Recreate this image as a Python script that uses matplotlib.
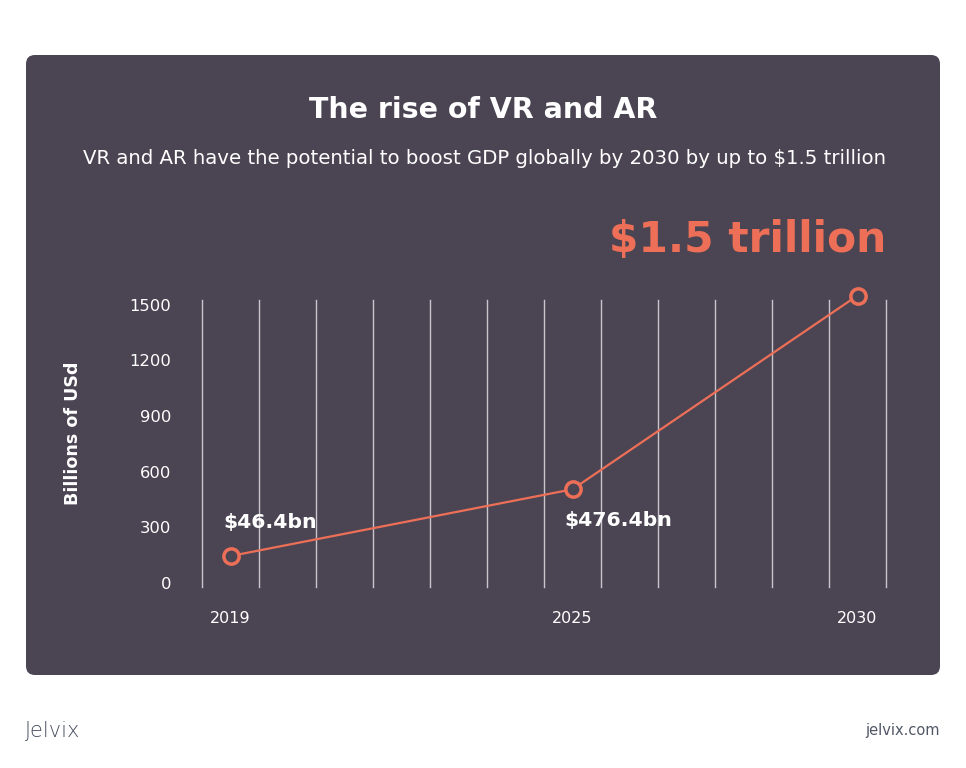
import matplotlib
matplotlib.use("Agg")
import matplotlib.pyplot as plt
from matplotlib.patches import FancyBboxPatch

# ---- data ----
years = [2019, 2025, 2030]
values = [145, 505, 1550]
point_labels = ["$46.4bn", "$476.4bn", None]
yticks = [0, 300, 600, 900, 1200, 1500]
xtick_labels = ["2019", "2025", "2030"]
title = "The rise of VR and AR"
subtitle = "VR and AR have the potential to boost GDP globally by 2030 by up to $1.5 trillion"
highlight = "$1.5 trillion"
ylabel = "Billions of USd"

BG = "#4b4553"
ACC = "#ee6f57"
GRID = "#c9c5cd"
FONT = ["DejaVu Sans"]
W, H = 966, 768

fig = plt.figure(figsize=(W / 100, H / 100), dpi=100)
fig.patch.set_facecolor("white")

bg = fig.add_axes([0, 0, 1, 1])
bg.set_xlim(0, W)
bg.set_ylim(H, 0)
bg.axis("off")
bg.add_patch(FancyBboxPatch((26, 55), 914, 620, boxstyle="round,pad=0,rounding_size=9",
                            facecolor=BG, edgecolor="none"))
bg.text(483.5, 110, title, color="white", fontsize=20.5, fontweight="bold",
        ha="center", va="center", family=FONT)
bg.text(484.5, 158, subtitle, color="white", fontsize=14.2, fontweight="normal",
        ha="center", va="center", family=FONT)
bg.text(886, 240, highlight, color=ACC, fontsize=30.5, fontweight="bold",
        ha="right", va="center", family=FONT)
bg.text(73, 433, ylabel, color="white", fontsize=12.6, fontweight="bold",
        ha="center", va="center", rotation=90, family=FONT)
bg.text(25, 731, "Jelvix", color="#454c5c", fontsize=15, ha="left", va="center",
        family=FONT, fontweight="light")
bg.text(940, 731, "jelvix.com", color="#505766", fontsize=10.5, ha="right", va="center",
        family=FONT)

ax = fig.add_axes([202 / W, 1 - 587 / H, (886 - 202) / W, (587 - 300) / H])
ax.set_facecolor("none")
ax.set_xlim(2018.5, 2030.5)
ax.set_ylim(-22, 1526)
for s in ax.spines.values():
    s.set_visible(False)
for k in range(13):
    ax.axvline(2018.5 + k, color=GRID, lw=1.0, zorder=1, clip_on=False)

ax.plot(years, values, color=ACC, lw=1.6, zorder=3, clip_on=False)
ax.plot(years, values, linestyle="none", marker="o", markersize=11, clip_on=False,
        markerfacecolor=BG, markeredgecolor=ACC, markeredgewidth=2.5, zorder=4)

offsets = [((-7, 24), "bottom"), ((-8, -22), "top")]
for x, v, lab, (off, va) in zip(years, values, point_labels, offsets):
    ax.annotate(lab, (x, v), xytext=off, textcoords="offset pixels",
                color="white", fontsize=14.7, fontweight="bold", family=FONT,
                ha="left", va=va)

ax.set_yticks(yticks)
ax.set_yticklabels([str(t) for t in yticks], color="white", fontsize=11.8, family=FONT)
ax.set_xticks(years)
ax.set_xticklabels(xtick_labels, color="white", fontsize=11.5, family=FONT)
ax.tick_params(axis="y", length=0, pad=22)
ax.tick_params(axis="x", length=0, pad=17)

fig.savefig("out.png", dpi=100, facecolor="white")
